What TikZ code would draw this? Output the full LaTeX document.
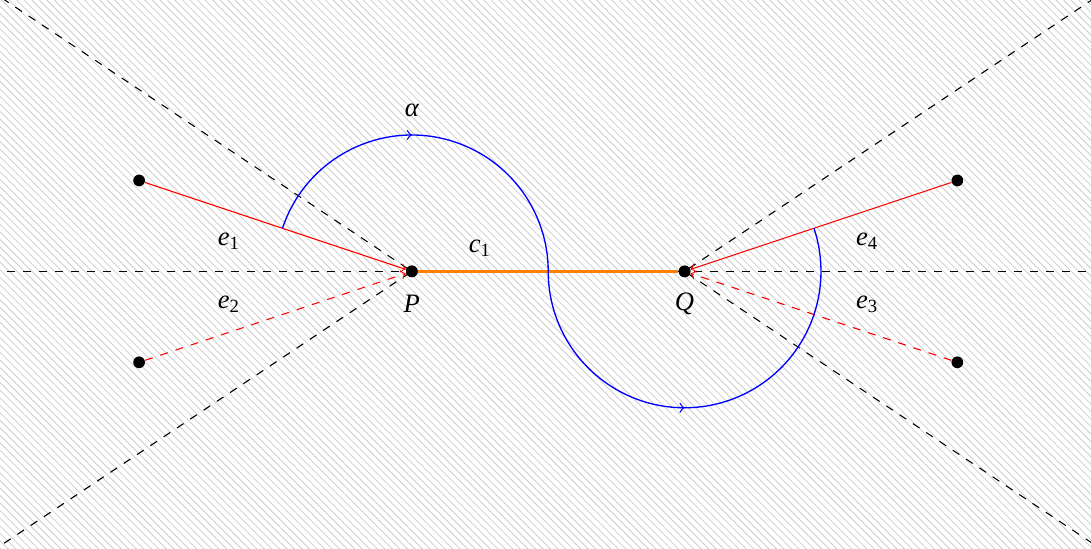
\documentclass[tikz,border=0pt]{standalone}
\usepackage{fontspec}
\setmainfont{Liberation Serif}
\usetikzlibrary{patterns.meta, decorations.markings}

\begin{document}
\begin{tikzpicture}[
  x=1.8cm, y=1.8cm,
  font=\itshape,
  punto/.style={circle, fill=black, inner sep=0pt, minimum size=4.4pt},
  raggio/.style={draw=black, dashed, line width=0.4pt},
  lato/.style={draw=red, line width=0.4pt, ->},
  latotratt/.style={lato, dashed},
  ciclo/.style={draw=blue, line width=0.5pt, postaction={decorate},
                decoration={markings,
                  mark=at position 0.199 with {\arrow{>}},
                  mark=at position 0.699 with {\arrow{>}}}},
  corda/.style={draw=orange, line width=1pt}
]

%--------------------------------------------------------------
% Sfondo tratteggiato
%--------------------------------------------------------------
\clip (-3.02,-2.03) rectangle (4.98,1.99);
\fill[pattern={Lines[angle=-45, distance=2pt, line width=0.3pt]},
      pattern color=black!20]
  (-3.02,-2.03) rectangle (4.98,1.99);

%--------------------------------------------------------------
% Punti
%--------------------------------------------------------------
\node[punto] (P) at (0,0) {};
\node[punto] (Q) at (2,0) {};
\foreach \n/\x/\y in {a1/-2/0.6667, a2/-2/-0.6667, b3/4/-0.6667, b4/4/0.6667}{
  \node[punto] (\n) at (\x,\y) {};
}

\coordinate (ovest) at (-3.2,0);
\coordinate (est) at (5.2,0);
\coordinate (no) at (-3.2,2.1333);
\coordinate (so) at (-3.2,-2.1333);
\coordinate (ne) at (5.2,2.1333);
\coordinate (se) at (5.2,-2.1333);

%--------------------------------------------------------------
% Rette tratteggiate
%--------------------------------------------------------------
\draw[raggio] (ovest) -- (est);
\draw[raggio] (no) -- (P.center) -- (so);
\draw[raggio] (ne) -- (Q.center) -- (se);

%--------------------------------------------------------------
% Lati e corda
%--------------------------------------------------------------
\draw[lato] (a1) -- (P);
\draw[latotratt] (a2) -- (P);
\draw[latotratt] (b3) -- (Q);
\draw[lato] (b4) -- (Q);
\draw[corda] (P) -- (Q);

%--------------------------------------------------------------
% Cammino alpha
%--------------------------------------------------------------
\draw[ciclo] (P.center) ++(161.565:1)
  arc[start angle=161.565, end angle=0, radius=1]
  arc[start angle=180, end angle=378.435, radius=1];

% punti sopra a tutto
\node[punto] at (P) {};
\node[punto] at (Q) {};

%--------------------------------------------------------------
% Etichette
%--------------------------------------------------------------
\node (lalpha) at (0,1.18) {α};
\node (lc1) at (0.5,0.17) {c\textsubscript{\upshape 1}};
\node (le1) at (-1.34,0.22) {e\textsubscript{\upshape 1}};
\node (le2) at (-1.34,-0.24) {e\textsubscript{\upshape 2}};
\node (le3) at (3.34,-0.24) {e\textsubscript{\upshape 3}};
\node (le4) at (3.34,0.22) {e\textsubscript{\upshape 4}};
\node (lP) at (0,-0.24) {P};
\node (lQ) at (2,-0.24) {Q};

\end{tikzpicture}
\end{document}
